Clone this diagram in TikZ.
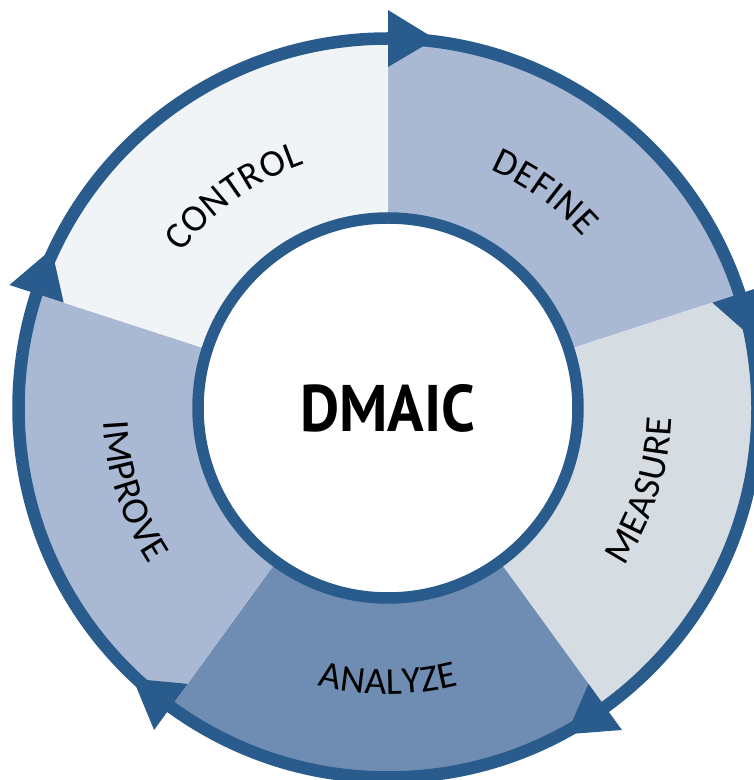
\documentclass[tikz,border=0pt]{standalone}
\usepackage{fontspec}
\usepackage{graphicx}
\usetikzlibrary{decorations.text}
\newfontfamily\labfam{Carlito}
\newfontfamily\titlefam{PT Sans}
\newcommand\labfont{\labfam\fontsize{38}{38}\selectfont}
\definecolor{ringc}{HTML}{295C8C}
\definecolor{defc}{HTML}{AAB9D3}
\definecolor{measc}{HTML}{D6DDE2}
\definecolor{anac}{HTML}{6F8DB3}
\definecolor{impc}{HTML}{AAB9D3}
\definecolor{conc}{HTML}{F1F4F6}
\tikzset{
  seglabel/.style={decorate, decoration={text effects along path, text={#1}, text align=center,
    text effects/.cd, text along path,
    characters={font=\labfont, text=black, inner sep=0pt},
    character widths={font=\labfont, inner xsep=0.3pt}}},
  ringline/.style={draw=ringc, line width=12.5pt},
  arrowtri/.style={fill=ringc}
}
\begin{document}
\begin{tikzpicture}[x=1pt,y=1pt]
\useasboundingbox (0,0) rectangle (754,780);
\clip (0,0) rectangle (754,780);
\coordinate (O) at (388,372);
% segments
\foreach \a/\e/\c in {90/18/defc, 18/-54/measc, -54/-126/anac, -126/-198/impc, 162/90/conc}{
  \fill[\c] ([shift={(\a:189)}]O) arc[start angle=\a, end angle=\e, radius=189]
     -- ([shift={(\e:366)}]O) arc[start angle=\e, end angle=\a, radius=366] -- cycle;
}
% outer ring
\draw[ringline] (O) circle[radius=369.5];
% arrowheads
\foreach \b in {90,18,-54,-126,162}{
  \pgfmathsetmacro\t{\b-7.3}
  \fill[arrowtri] ([shift={(\b:341)}]O) -- ([shift={(\b:398)}]O) -- ([shift={(\t:372)}]O) -- cycle;
}
% centre
\node[circle, draw=ringc, line width=11.5pt, fill=white, minimum size=380pt, inner sep=0pt] (core) at (O)
  {\resizebox{175pt}{47pt}{\titlefam\bfseries DMAIC}};
% labels
\path[seglabel=DEFINE] ([shift={(79:259)}]O) arc[start angle=79, end angle=29, radius=259];
\path[seglabel=CONTROL] ([shift={(151:258)}]O) arc[start angle=151, end angle=101, radius=258];
\path[seglabel=MEASURE] ([shift={(-43:284)}]O) arc[start angle=-43, end angle=7, radius=284];
\path[seglabel=ANALYZE] ([shift={(-115:286)}]O) arc[start angle=-115, end angle=-65, radius=286];
\path[seglabel=IMPROVE] ([shift={(-187:285)}]O) arc[start angle=-187, end angle=-137, radius=285];
\end{tikzpicture}
\end{document}
